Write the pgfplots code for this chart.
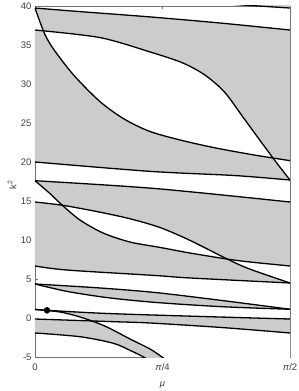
\documentclass[border=0pt]{standalone}
\usepackage{fontspec}
\setmainfont{Liberation Sans}
\usepackage{pgfplots}
\usepackage{pgfplotstable}
\usepgfplotslibrary{fillbetween}
\pgfplotsset{compat=1.18}

\pgfplotstableread{
x y
1.10 40.37
1.5708 39.74
}\cO
\pgfplotstableread{
x y
0 39.74
0.234 39.35
0.7084 38.6
1.15 37.8
1.5708 36.92
}\cA
\pgfplotstableread{
x y
0 39.74
0.06 36.4
0.12 34.3
0.24 31.1
0.40 27.75
0.55 25.5
0.71 23.9
0.91 22.74
1.12 21.77
1.35 20.90
1.5708 20.17
}\cB
\pgfplotstableread{
x y
0 36.92
0.40 35.95
0.71 34.1
0.91 32.7
1.05 31.1
1.17 28.9
1.29 25.5
1.47 20.4
1.5708 17.69
}\cC
\pgfplotstableread{
x y
0 20.0
0.7084 18.8
1.232 18.26
1.5708 17.69
}\cD
\pgfplotstableread{
x y
0 17.6
0.74 16.6
1.5708 14.87
}\cE
\pgfplotstableread{
x y
0 17.6
0.0924 15.95
0.1663 14.49
0.2772 12.56
0.4189 10.90
0.5852 9.74
0.7700 9.05
0.9548 8.33
1.1827 7.56
1.3244 7.18
1.5708 6.67
}\cF
\pgfplotstableread{
x y
0 14.87
0.17 14.45
0.38 13.65
0.58 12.75
0.77 11.6
0.955 9.95
1.18 7.6
1.32 6.3
1.5708 4.49
}\cG
\pgfplotstableread{
x y
0 6.67
0.197 6.15
0.74 5.45
0.9548 5.13
1.5708 4.49
}\cH
\pgfplotstableread{
x y
0 4.36
0.40 3.85
0.74 3.27
1.15 2.25
1.5708 1.12
}\cI
\pgfplotstableread{
x y
0 4.36
0.2 3.4
0.45 2.6
0.74 2.0
1.15 1.45
1.5708 1.12
}\cJ
\pgfplotstableread{
x y
0 1.09
0.48 0.55
1.5708 -0.13
}\cK
\pgfplotstableread{
x y
0 -0.13
0.48 -0.47
0.7084 -0.64
1.15 -1.22
1.5708 -1.92
}\cL
\pgfplotstableread{
x y
0 1.09
0.154 0.77
0.2772 0.13
0.4004 -0.77
0.4805 -1.54
0.5852 -2.69
0.7084 -3.97
0.7823 -5.0
0.90 -6.65
1.2 -10.5
1.5708 -15
}\cM
\pgfplotstableread{
x y
0 -1.92
0.2772 -2.40
0.4825 -3.24
0.5852 -4.15
0.6776 -5.1
0.75 -6.2
1.0 -10.5
1.5708 -20
}\cN

\begin{document}
\begin{tikzpicture}
\begin{axis}[
  name=ax,
  scale only axis,
  width=255pt, height=351pt,
  xmin=0, xmax=1.5708, ymin=-5, ymax=40,
  xtick={0,0.7854,1.5708},
  xticklabels={0,\textit{π}/4,\textit{π}/2},
  ytick={-5,0,...,40},
  xlabel={\textit{μ}},
  ylabel={k\textsuperscript{2}},
  tick align=inside,
  major tick length=3pt,
  axis line style={black!55},
  tick style={black!55, line width=0.4pt},
  every tick label/.append style={font=\fontsize{9.5}{11}\selectfont, text=black!75},
  xticklabel style={yshift=-3pt},
  label style={font=\fontsize{9.5}{11}\selectfont, text=black!75},
  /pgf/number format/assume math mode=true,
  xlabel style={at={(axis description cs:0.5,-0.08)}, anchor=center},
  ylabel style={at={(axis description cs:-0.09,0.49)}, anchor=center, rotate=0},
  curve/.style={black, line width=1.3pt, smooth},
]
% invisible named paths
\addplot[draw=none, smooth, name path=A] table {\cA};
\addplot[draw=none, smooth, name path=B] table {\cB};
\addplot[draw=none, smooth, name path=C] table {\cC};
\addplot[draw=none, smooth, name path=D] table {\cD};
\addplot[draw=none, smooth, name path=E] table {\cE};
\addplot[draw=none, smooth, name path=F] table {\cF};
\addplot[draw=none, smooth, name path=G] table {\cG};
\addplot[draw=none, smooth, name path=H] table {\cH};
\addplot[draw=none, smooth, name path=I] table {\cI};
\addplot[draw=none, smooth, name path=J] table {\cJ};
\addplot[draw=none, smooth, name path=K] table {\cK};
\addplot[draw=none, smooth, name path=L] table {\cL};
\addplot[draw=none, smooth, name path=M] table {\cM};
\addplot[draw=none, smooth, name path=N] table {\cN};
% gray regions
\addplot[fill=black!20, draw=none] coordinates {(1.10,40.37) (1.5708,39.74) (1.5708,41) (1.10,41)} -- cycle;
\addplot[fill=black!20, draw=none] fill between[of=A and D];
\addplot[fill=white, draw=none] fill between[of=B and C];
\addplot[fill=black!20, draw=none] fill between[of=E and H];
\addplot[fill=white, draw=none] fill between[of=F and G];
\addplot[fill=black!20, draw=none] fill between[of=I and J];
\addplot[fill=black!20, draw=none] fill between[of=K and N];
\addplot[fill=white, draw=none] fill between[of=L and M];
% curves
\addplot[curve] table {\cO};
\addplot[curve] table {\cA};
\addplot[curve] table {\cB};
\addplot[curve] table {\cC};
\addplot[curve] table {\cD};
\addplot[curve] table {\cE};
\addplot[curve] table {\cF};
\addplot[curve] table {\cG};
\addplot[curve] table {\cH};
\addplot[curve] table {\cI};
\addplot[curve] table {\cJ};
\addplot[curve] table {\cK};
\addplot[curve] table {\cL};
\addplot[curve] table {\cM};
\addplot[curve] table {\cN};
\addplot[only marks, mark=*, mark size=3pt, black] coordinates {(0.074,0.98)};
\end{axis}
\pgfresetboundingbox
\path ([xshift=-35pt,yshift=-34pt]ax.south west) rectangle ([xshift=9pt,yshift=6pt]ax.north east);
\end{tikzpicture}
\end{document}
